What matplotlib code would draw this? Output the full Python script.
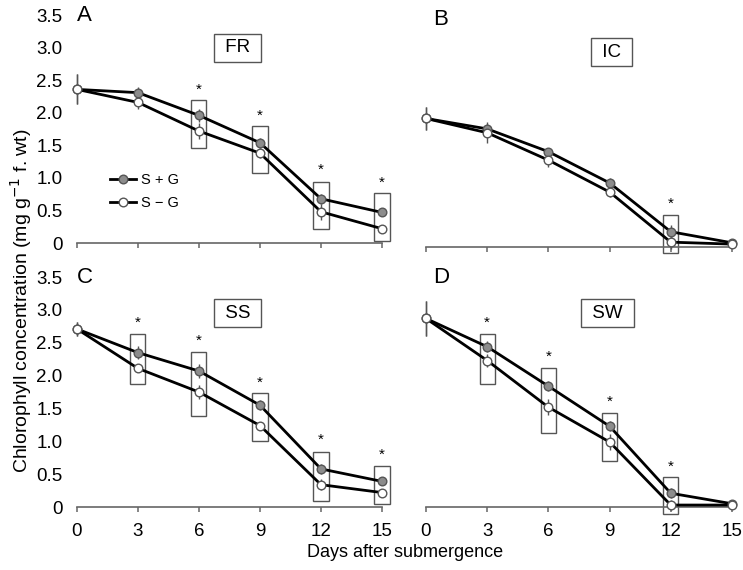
import matplotlib.pyplot as plt
import numpy as np

plt.rcParams['font.family'] = ['Liberation Sans', 'DejaVu Sans']

days = [0, 3, 6, 9, 12, 15]
panel_letters = ['A', 'B', 'C', 'D']
cultivars = ['FR', 'IC', 'SS', 'SW']

# S + G (grey) and S - G (white) means
sg_plus = [
    [2.36, 2.31, 1.96, 1.54, 0.68, 0.47],
    [1.98, 1.82, 1.47, 0.99, 0.24, 0.07],
    [2.71, 2.35, 2.07, 1.55, 0.58, 0.39],
    [2.87, 2.44, 1.84, 1.23, 0.21, 0.05],
]
sg_minus = [
    [2.36, 2.16, 1.72, 1.38, 0.48, 0.22],
    [1.98, 1.76, 1.34, 0.85, 0.08, 0.05],
    [2.71, 2.11, 1.75, 1.24, 0.34, 0.22],
    [2.87, 2.23, 1.52, 0.99, 0.03, 0.03],
]
err_plus = [
    [0.23, 0.08, 0.10, 0.08, 0.08, 0.06],
    [0.18, 0.08, 0.06, 0.08, 0.10, 0.04],
    [0.10, 0.10, 0.10, 0.08, 0.08, 0.05],
    [0.26, 0.08, 0.08, 0.08, 0.08, 0.04],
]
err_minus = [
    [0.23, 0.10, 0.12, 0.08, 0.12, 0.05],
    [0.18, 0.16, 0.10, 0.08, 0.10, 0.04],
    [0.10, 0.06, 0.10, 0.06, 0.08, 0.05],
    [0.26, 0.10, 0.12, 0.12, 0.08, 0.04],
]

# significance boxes: day, bottom, top, star height
sig_days = [[6, 9, 12, 15], [12], [3, 6, 9, 12, 15], [3, 6, 9, 12]]
sig_low = [[1.46, 1.07, 0.21, 0.03], [-0.08], [1.88, 1.39, 1.00, 0.09, 0.05],
           [1.88, 1.13, 0.70, -0.11]]
sig_high = [[2.20, 1.79, 0.94, 0.77], [0.50], [2.63, 2.36, 1.73, 0.83, 0.62],
            [2.63, 2.11, 1.43, 0.46]]
star_y = [[2.35, 1.95, 1.12, 0.93], [0.67], [2.80, 2.53, 1.89, 1.02, 0.79],
          [2.80, 2.28, 1.60, 0.62]]

label_pos = [(7.9, 3.0), (9.1, 3.0), (7.9, 2.95), (8.9, 2.95)]
letter_x = [0.0, 0.35, 0.0, 0.35]

yticks = [0, 0.5, 1.0, 1.5, 2.0, 2.5, 3.0, 3.5]
ytick_labels = ['0', '0.5', '1.0', '1.5', '2.0', '2.5', '3.0', '3.5']

fig = plt.figure(figsize=(7.43, 5.70), dpi=100)
rects = [
    [0.0899, 0.5565, 0.4379, 0.4283],
    [0.5596, 0.5489, 0.4393, 0.4283],
    [0.0899, 0.0932, 0.4379, 0.4322],
    [0.5596, 0.0932, 0.4393, 0.4322],
]

spine_col = '#666666'
for i in range(4):
    ax = fig.add_axes(rects[i])
    ax.set_xlim(-0.5, 15.5)
    ax.set_ylim(-0.15, 3.6)
    for s in ['top', 'right', 'left']:
        ax.spines[s].set_visible(False)
    ax.spines['bottom'].set_position(('data', 0))
    ax.spines['bottom'].set_bounds(0, 15)
    ax.spines['bottom'].set_color(spine_col)
    ax.spines['bottom'].set_linewidth(1.2)
    ax.set_xticks(days)
    ax.tick_params(axis='x', direction='out', length=3.5, width=1.1,
                   color=spine_col, labelsize=13.5, pad=8)
    ax.tick_params(axis='y', length=0, labelsize=13.5, pad=3)
    ax.set_yticks(yticks)
    if i % 2 == 0:
        ax.set_yticklabels(ytick_labels)
    else:
        ax.set_yticklabels([])
    if i < 2:
        ax.set_xticklabels([])

    # significance boxes
    for d, lo, hi, sy in zip(sig_days[i], sig_low[i], sig_high[i], star_y[i]):
        ax.add_patch(plt.Rectangle((d - 0.37, lo), 0.74, hi - lo, fill=False,
                                   edgecolor='#555555', lw=1.0, zorder=2))
        ax.text(d, sy, '*', ha='center', va='center', fontsize=11)

    ax.errorbar(days, sg_plus[i], yerr=err_plus[i], fmt='none',
                ecolor='#555555', elinewidth=1.0, capsize=0, zorder=3)
    ax.errorbar(days, sg_minus[i], yerr=err_minus[i], fmt='none',
                ecolor='#555555', elinewidth=1.0, capsize=0, zorder=3)
    ax.plot(days, sg_plus[i], '-', color='black', lw=2.0, zorder=4,
            marker='o', ms=6.2, mfc='#8c8c8c', mec='#555555', mew=1.0,
            label='S + G')
    ax.plot(days, sg_minus[i], '-', color='black', lw=2.0, zorder=5,
            marker='o', ms=6.2, mfc='white', mec='#555555', mew=1.0,
            label='S \u2212 G')

    ax.text(label_pos[i][0], label_pos[i][1], ' ' + cultivars[i] + ' ',
            ha='center', va='center', fontsize=13.5,
            bbox=dict(boxstyle='square,pad=0.3', fc='white', ec='#555555', lw=1.0))
    ax.text(letter_x[i], 3.5, panel_letters[i], ha='left', va='center',
            fontsize=16)

    if i == 0:
        ax.legend(loc='upper left', bbox_to_anchor=(0.115, 0.35), frameon=False,
                  fontsize=10.5, handlelength=1.8, handletextpad=0.3,
                  labelspacing=0.6, borderaxespad=0)

fig.text(0.545, 0.030, 'Days after submergence', ha='center', va='center',
         fontsize=13)
fig.text(0.029, 0.472, 'Chlorophyll concentration (mg g$^{-1}$ f. wt)',
         ha='center', va='center', rotation=90, fontsize=14)

fig.savefig('out.png', dpi=100)
